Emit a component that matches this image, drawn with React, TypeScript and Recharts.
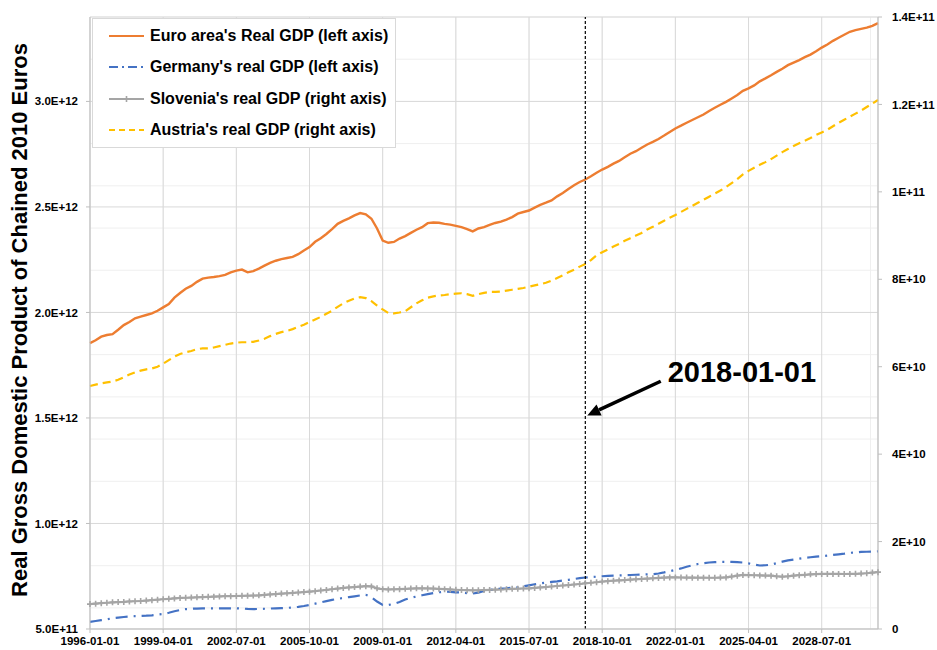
import { CartesianGrid, Legend, Line, LineChart, ReferenceLine, XAxis, YAxis } from 'recharts';

// quarterly observations, 1996-01-01 .. 2031-01-01
const quarterLabels = Array.from(
  { length: 141 },
  (_, i) => `${1996 + Math.floor(i / 4)}-${['01', '04', '07', '10'][i % 4]}-01`
);

// left axis, trillion euros
const euroArea = [
  1.855, 1.868, 1.885, 1.893, 1.897, 1.918, 1.94, 1.955, 1.972, 1.98,
  1.988, 1.996, 2.008, 2.024, 2.04, 2.07, 2.092, 2.112, 2.126, 2.145,
  2.16, 2.165, 2.168, 2.172, 2.178, 2.19, 2.198, 2.203, 2.19, 2.196,
  2.208, 2.222, 2.235, 2.245, 2.253, 2.258, 2.263, 2.276, 2.294, 2.31,
  2.335, 2.352, 2.372, 2.395, 2.42, 2.434, 2.446, 2.46, 2.471, 2.465,
  2.444, 2.398, 2.341, 2.33, 2.334, 2.35, 2.362, 2.377, 2.392, 2.404,
  2.423, 2.426, 2.425, 2.42, 2.416, 2.41, 2.404, 2.395, 2.384, 2.398,
  2.404, 2.415, 2.424, 2.43, 2.44, 2.452, 2.468, 2.476, 2.483, 2.497,
  2.51, 2.52, 2.531, 2.55, 2.566, 2.585, 2.603, 2.618, 2.63, 2.645,
  2.662, 2.677, 2.69, 2.705, 2.718, 2.735, 2.752, 2.764, 2.78, 2.796,
  2.808, 2.822, 2.838, 2.855, 2.872, 2.885, 2.899, 2.912, 2.925, 2.938,
  2.955, 2.97, 2.984, 2.998, 3.014, 3.03, 3.05, 3.062, 3.076, 3.095,
  3.109, 3.124, 3.14, 3.155, 3.172, 3.184, 3.196, 3.21, 3.222, 3.238,
  3.255, 3.27, 3.287, 3.302, 3.316, 3.33, 3.338, 3.344, 3.35, 3.358,
  3.371
];

const germany = [
  0.534, 0.538, 0.542, 0.546, 0.551, 0.554, 0.557, 0.559, 0.561, 0.562,
  0.563, 0.565, 0.568, 0.571, 0.577, 0.584, 0.59, 0.594, 0.596, 0.597,
  0.598, 0.598, 0.598, 0.598, 0.598, 0.598, 0.598, 0.597, 0.595, 0.594,
  0.595, 0.596, 0.597, 0.598, 0.599, 0.6, 0.602, 0.605, 0.609, 0.614,
  0.62, 0.626, 0.632, 0.638, 0.643, 0.647, 0.651, 0.655, 0.659, 0.662,
  0.651, 0.63, 0.614, 0.614, 0.619, 0.628, 0.64, 0.648, 0.654, 0.66,
  0.665, 0.67, 0.674, 0.677, 0.676, 0.674, 0.673, 0.67, 0.668, 0.672,
  0.68, 0.685, 0.688, 0.691, 0.693, 0.696, 0.698, 0.702, 0.707, 0.712,
  0.716, 0.72, 0.723, 0.726, 0.73, 0.733, 0.737, 0.741, 0.744, 0.746,
  0.748, 0.75, 0.752, 0.753, 0.754, 0.755, 0.756, 0.757, 0.758, 0.759,
  0.76, 0.763, 0.768, 0.774, 0.78, 0.787, 0.795, 0.802, 0.808, 0.812,
  0.815, 0.817, 0.818, 0.818, 0.818, 0.817, 0.815, 0.811, 0.805, 0.801,
  0.802, 0.805, 0.812, 0.819, 0.825, 0.829, 0.833, 0.837, 0.84, 0.843,
  0.845, 0.848, 0.851, 0.854, 0.857, 0.861, 0.863, 0.865, 0.866, 0.867,
  0.868
];

// right axis, tens of billions of euros
const slovenia = [
  0.57, 0.58, 0.59, 0.6, 0.61, 0.615, 0.62, 0.63, 0.635, 0.64,
  0.65, 0.66, 0.67, 0.68, 0.69, 0.7, 0.71, 0.715, 0.72, 0.725,
  0.73, 0.735, 0.74, 0.745, 0.75, 0.752, 0.755, 0.76, 0.762, 0.765,
  0.77, 0.78, 0.79, 0.8, 0.81, 0.817, 0.825, 0.835, 0.845, 0.854,
  0.865, 0.88, 0.895, 0.91, 0.925, 0.94, 0.95, 0.96, 0.97, 0.98,
  0.975, 0.93, 0.91, 0.905, 0.908, 0.912, 0.918, 0.925, 0.93, 0.93,
  0.928, 0.925, 0.918, 0.912, 0.905, 0.898, 0.892, 0.888, 0.885, 0.885,
  0.89, 0.895, 0.9, 0.905, 0.912, 0.918, 0.922, 0.926, 0.93, 0.94,
  0.95, 0.96, 0.972, 0.984, 0.995, 1.005, 1.018, 1.03, 1.045, 1.058,
  1.07, 1.085, 1.095, 1.105, 1.112, 1.12, 1.13, 1.137, 1.145, 1.152,
  1.16, 1.168, 1.175, 1.18, 1.18, 1.178, 1.176, 1.175, 1.174, 1.174,
  1.172, 1.172, 1.176, 1.18, 1.2, 1.22, 1.236, 1.234, 1.23, 1.226,
  1.222, 1.22, 1.205, 1.197, 1.205, 1.22, 1.232, 1.24, 1.25, 1.256,
  1.259, 1.26, 1.26, 1.259, 1.258, 1.259, 1.262, 1.268, 1.275, 1.29,
  1.3
];

const austria = [
  5.56, 5.59, 5.62, 5.64, 5.66, 5.7, 5.76, 5.82, 5.87, 5.91,
  5.94, 5.96, 6.0, 6.07, 6.15, 6.23, 6.29, 6.33, 6.36, 6.4,
  6.42, 6.42, 6.44, 6.47, 6.5, 6.53, 6.55, 6.56, 6.56, 6.57,
  6.6, 6.64, 6.7, 6.75, 6.79, 6.82, 6.86, 6.91, 6.96, 7.02,
  7.08, 7.14, 7.21, 7.28, 7.37, 7.45, 7.51, 7.56, 7.59, 7.57,
  7.5, 7.4, 7.31, 7.23, 7.22, 7.24, 7.27, 7.36, 7.45, 7.52,
  7.58, 7.61, 7.63, 7.64, 7.66, 7.67, 7.68, 7.66, 7.62, 7.66,
  7.69, 7.71, 7.71, 7.72, 7.74, 7.76, 7.78, 7.8, 7.83, 7.86,
  7.89, 7.92, 7.97, 8.03, 8.09, 8.16, 8.22, 8.29, 8.35, 8.44,
  8.55, 8.62, 8.68, 8.75, 8.81, 8.88, 8.94, 9.0, 9.06, 9.14,
  9.2, 9.27, 9.34, 9.41, 9.47, 9.54, 9.61, 9.68, 9.75, 9.82,
  9.89, 9.96, 10.03, 10.11, 10.2, 10.29, 10.4, 10.48, 10.55, 10.62,
  10.68, 10.75, 10.83, 10.91, 10.98, 11.05, 11.11, 11.17, 11.23, 11.3,
  11.36, 11.42, 11.5, 11.58, 11.65, 11.72, 11.79, 11.86, 11.94, 12.02,
  12.1
];

const xTicks = [0, 13, 26, 39, 52, 65, 78, 91, 104, 117, 130];
const xMinorTicks = Array.from({ length: 33 }, (_, k) => (k * 13) / 3);
const leftTicks = [5e11, 1e12, 1.5e12, 2e12, 2.5e12, 3e12];
const leftMinorTicks = Array.from({ length: 30 }, (_, k) => 5e11 + k * 1e11);
const rightTicks = [0, 2e10, 4e10, 6e10, 8e10, 1e11, 1.2e11, 1.4e11];

const markerIndex = 88; // 2018-01-01
const arrowFrom = { x: 101.4, y: 1.674e12 };
const arrowTo = { x: 88.35, y: 1.512e12 };

const data = quarterLabels.map((q, i) => ({
  idx: i,
  quarter: q,
  euro: euroArea[i] * 1e12,
  germany: germany[i] * 1e12,
  slovenia: slovenia[i] * 1e10,
  austria: austria[i] * 1e10
}));

const FONT = "'Liberation Sans', Arial, sans-serif";
const tickStyle = { fontSize: 11.5, fontWeight: 700, fill: '#000', fontFamily: FONT };

const legendItems = [
  { label: "Euro area's Real GDP (left axis)", color: '#ed7d31', dash: undefined, marker: false },
  { label: "Germany's real GDP (left axis)", color: '#4472c4', dash: '9 4 2 4', marker: false },
  { label: "Slovenia's real GDP (right axis)", color: '#a5a5a5', dash: undefined, marker: true },
  { label: "Austria's real GDP (right axis)", color: '#ffc000', dash: '6 4', marker: false }
];

const leftFmt = (v: number) => v.toExponential(1).toUpperCase();
const rightFmt = (v: number) => (v === 0 ? '0' : v.toExponential().toUpperCase());

function PlusDot(props: any) {
  const { cx, cy, index } = props;
  if (cx == null || cy == null) return null;
  return <path key={`d${index}`} d={`M${cx - 3},${cy}h6M${cx},${cy - 3}v6`} stroke="#a5a5a5" strokeWidth={1.6} />;
}

function Arrow(props: any) {
  const { x1, y1, x2, y2 } = props;
  const a = Math.atan2(y2 - y1, x2 - x1);
  const len = 13;
  const w = 6;
  const bx = x2 - len * Math.cos(a);
  const by = y2 - len * Math.sin(a);
  const px = -Math.sin(a) * w;
  const py = Math.cos(a) * w;
  return (
    <g>
      <line x1={x1} y1={y1} x2={bx} y2={by} stroke="#000" strokeWidth={3.5} />
      <polygon points={`${x2},${y2} ${bx + px},${by + py} ${bx - px},${by - py}`} fill="#000" />
      <text x={x1 + 7} y={y1 + 1} fontSize={29} fontWeight={700} fontFamily={FONT} fill="#000">
        {quarterLabels[markerIndex]}
      </text>
    </g>
  );
}

function LegendBox() {
  return (
    <div
      style={{
        width: 302,
        height: 127,
        border: '1px solid #d9d9d9',
        background: '#fff',
        paddingTop: 1,
        boxSizing: 'content-box'
      }}
    >
      {legendItems.map(item => (
        <div key={item.label} style={{ height: 31.5, display: 'flex', alignItems: 'center' }}>
          <svg width={57} height={20} style={{ flex: 'none' }}>
            <line x1={16} y1={10} x2={51} y2={10} stroke={item.color} strokeWidth={2.2} strokeDasharray={item.dash} />
            {item.marker && <path d="M30.5,10h6M33.5,7v6" stroke={item.color} strokeWidth={1.6} />}
          </svg>
          <span style={{ fontFamily: FONT, fontWeight: 700, fontSize: 16, color: '#000', whiteSpace: 'nowrap' }}>
            {item.label}
          </span>
        </div>
      ))}
    </div>
  );
}

export default function App() {
  return (
    <div style={{ position: 'absolute', left: 0, top: 0, width: 937, height: 650, background: '#fff' }}>
      <LineChart width={937} height={650} data={data} margin={{ top: 17, right: 0, left: 30, bottom: 0 }}>
        <XAxis xAxisId="minor" dataKey="idx" type="number" domain={[0, 140]} ticks={xMinorTicks} hide />
        <YAxis yAxisId="minor" type="number" domain={[5e11, 3.4e12]} ticks={leftMinorTicks} allowDataOverflow hide />
        <XAxis
          xAxisId="main"
          dataKey="idx"
          type="number"
          domain={[0, 140]}
          ticks={xTicks}
          tickFormatter={(i: number) => quarterLabels[i]}
          interval={0}
          height={21}
          tick={tickStyle}
          tickSize={4}
          tickMargin={4}
          stroke="#bfbfbf"
        />
        <YAxis
          yAxisId="left"
          type="number"
          domain={[5e11, 3.4e12]}
          ticks={leftTicks}
          allowDataOverflow
          tickFormatter={leftFmt}
          width={60}
          tick={tickStyle}
          tickSize={4}
          tickMargin={8}
          stroke="#bfbfbf"
          label={{
            content: () => (
              <text
                x={19}
                y={320}
                transform="rotate(-90 19 320)"
                textAnchor="middle"
                dominantBaseline="central"
                fontFamily={FONT}
                fontWeight={700}
                fontSize={22}
                fill="#000"
              >
                Real Gross Domestic Product of Chained 2010 Euros
              </text>
            )
          }}
        />
        <YAxis
          yAxisId="right"
          orientation="right"
          type="number"
          domain={[0, 1.4e11]}
          ticks={rightTicks}
          allowDataOverflow
          tickFormatter={rightFmt}
          width={59}
          tick={tickStyle}
          tickSize={4}
          tickMargin={10}
          stroke="#bfbfbf"
        />
        <CartesianGrid xAxisId="minor" yAxisId="minor" stroke="#efefef" />
        <CartesianGrid xAxisId="main" yAxisId="left" stroke="#d9d9d9" />
        <Legend
          layout="vertical"
          align="center"
          verticalAlign="middle"
          content={() => <LegendBox />}
          wrapperStyle={{ left: 92, top: 18, width: 304, height: 129 }}
        />
        <Line
          xAxisId="main"
          yAxisId="right"
          dataKey="austria"
          stroke="#ffc000"
          strokeWidth={2.2}
          strokeDasharray="8 5"
          dot={false}
          isAnimationActive={false}
        />
        <Line
          xAxisId="main"
          yAxisId="right"
          dataKey="slovenia"
          stroke="#a5a5a5"
          strokeWidth={2.2}
          dot={PlusDot}
          isAnimationActive={false}
        />
        <Line
          xAxisId="main"
          yAxisId="left"
          dataKey="germany"
          stroke="#4472c4"
          strokeWidth={2.2}
          strokeDasharray="12 6 2 6"
          dot={false}
          isAnimationActive={false}
        />
        <Line
          xAxisId="main"
          yAxisId="left"
          dataKey="euro"
          stroke="#ed7d31"
          strokeWidth={2.4}
          dot={false}
          isAnimationActive={false}
        />
        <ReferenceLine xAxisId="main" yAxisId="left" x={markerIndex} stroke="#000" strokeWidth={1.2} strokeDasharray="3 2" />
        <ReferenceLine
          xAxisId="main"
          yAxisId="left"
          segment={[arrowFrom, arrowTo]}
          shape={(p: any) => <Arrow {...p} />}
        />
      </LineChart>
    </div>
  );
}
